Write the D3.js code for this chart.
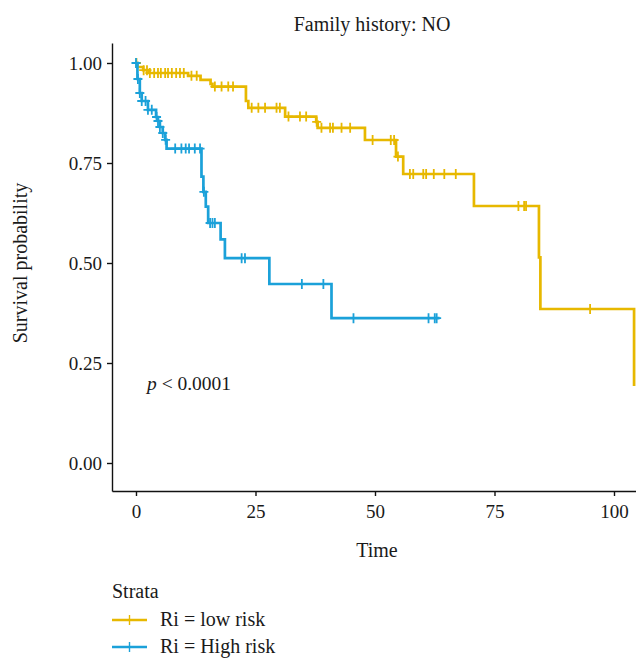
<!DOCTYPE html>
<html>

<head>
    <meta charset="utf-8" />
    <title>Survival curves</title>
    <script type="text/javascript" src="https://cdn.jsdelivr.net/npm/d3@7"></script>
    <style>
        body { margin: 0; background: #fff; }
        text { font-family: "Liberation Serif", "DejaVu Serif", serif; fill: #1a1a1a; }
    </style>
</head>

<body>
    <script type="text/javascript">
        // step times / survival after each step, censor times
        var lowTimes = [0, 0.3, 1.5, 2.8, 10.9, 13.5, 15.6, 16.0, 23.0, 23.5, 31.2, 37.7, 38.0, 47.9, 54.4, 55.9, 70.7, 84.3, 84.6, 104.2];
        var lowSurv = [1, 0.99, 0.982, 0.975, 0.968, 0.958, 0.948, 0.941, 0.905, 0.888, 0.866, 0.853, 0.838, 0.8075, 0.766, 0.7225, 0.6425, 0.514, 0.385, 0.1925];
        var lowCensor = [0.1, 1.6, 2.3, 2.9, 3.8, 4.6, 5.2, 6.1, 6.7, 7.5, 8.4, 9.2, 10.0, 11.6, 12.7, 16.5, 17.9, 19.3, 20.3,
            24.2, 25.6, 27.0, 29.4, 30.1, 31.9, 34.3, 35.6, 37.8, 38.8, 40.6, 41.2, 43.0, 44.8, 49.5, 53.3, 54.0, 54.8,
            57.3, 58.0, 60.1, 60.7, 62.3, 64.5, 66.9, 80.0, 81.2, 81.6, 95.0];
        var lowEnd = 104.2;

        var highTimes = [0, 0.3, 0.8, 1.2, 2.5, 4.2, 4.6, 5.0, 5.6, 6.1, 6.4, 13.7, 14.1, 14.6, 15.1, 17.7, 18.6, 27.9, 40.9];
        var highSurv = [1, 0.96, 0.925, 0.905, 0.883, 0.865, 0.855, 0.84, 0.825, 0.808, 0.786, 0.716, 0.678, 0.641, 0.60, 0.559, 0.512, 0.4475, 0.362];
        var highCensor = [0, 0.4, 0.8, 1.2, 2.0, 2.5, 3.3, 4.3, 4.6, 5.0, 5.6, 6.2, 8.2, 9.5, 10.4, 11.1, 12.3, 13.4, 14.2,
            15.5, 16.0, 16.5, 22.1, 22.8, 34.7, 39.2, 45.5, 61.2, 62.5, 62.9];
        var highEnd = 63.5;

        var strataNames = ["Ri = low risk", "Ri = High risk"];
        var strataColors = ["#E7B800", "#1BA1D9"];
        var xTicks = [0, 25, 50, 75, 100];
        var yTicks = [0, 0.25, 0.5, 0.75, 1];

        var width = 636, height = 658;
        var plotLeft = 112, plotTop = 43, plotBottom = 491;

        var svg = d3.select("body").append("svg")
            .attr("width", width)
            .attr("height", height);

        var x = d3.scaleLinear().domain([-5.02, 109.2]).range([plotLeft, plotLeft + 4.78 * 114.22]);
        var y = d3.scaleLinear().domain([-0.07, 1.05]).range([plotBottom, plotTop]);

        function survAt(times, surv, t) {
            var s = surv[0];
            for (var i = 0; i < times.length; i++) if (times[i] <= t) s = surv[i];
            return s;
        }

        function stepPoints(times, surv, end) {
            var pts = times.map(function (t, i) { return [t, surv[i]]; });
            pts.push([end, surv[surv.length - 1]]);
            return pts;
        }

        var strata = [
            { times: lowTimes, surv: lowSurv, censor: lowCensor, end: lowEnd },
            { times: highTimes, surv: highSurv, censor: highCensor, end: highEnd }
        ];

        // axes
        var yAxis = svg.append("g")
            .attr("transform", "translate(" + plotLeft + ",0)")
            .call(d3.axisLeft(y).tickValues(yTicks).tickFormat(d3.format(".2f")).tickSize(5).tickSizeOuter(0));
        var xAxis = svg.append("g")
            .attr("transform", "translate(0," + plotBottom + ")")
            .call(d3.axisBottom(x).tickValues(xTicks).tickSize(5).tickSizeOuter(0));

        [yAxis, xAxis].forEach(function (a) {
            a.select(".domain").attr("stroke", "#111").attr("stroke-width", 1.4);
            a.selectAll(".tick line").attr("stroke", "#111").attr("stroke-width", 1.4);
            a.selectAll(".tick text").attr("font-size", 19).attr("fill", "#1a1a1a")
                .style("font-family", "'Liberation Serif', serif");
        });
        yAxis.selectAll(".tick text").attr("x", -10).attr("dy", "0.35em");
        xAxis.selectAll(".tick text").attr("y", 14);

        // curves
        var line = d3.line()
            .x(function (d) { return x(d[0]); })
            .y(function (d) { return y(d[1]); })
            .curve(d3.curveStepAfter);

        var plot = svg.append("g");

        strata.forEach(function (s, i) {
            plot.append("path")
                .datum(stepPoints(s.times, s.surv, s.end))
                .attr("fill", "none")
                .attr("stroke", strataColors[i])
                .attr("stroke-width", 2.7)
                .attr("d", line);

            plot.selectAll("path.censor" + i)
                .data(s.censor)
                .enter().append("path")
                .attr("class", "censor" + i)
                .attr("stroke", strataColors[i])
                .attr("stroke-width", 1.8)
                .attr("d", function (t) {
                    var cx = x(t), cy = y(survAt(s.times, s.surv, t));
                    return "M" + (cx - 4.5) + "," + cy + "H" + (cx + 4.5) + "M" + cx + "," + (cy - 5) + "V" + (cy + 5);
                });
        });

        // texts
        svg.append("text")
            .attr("x", 372).attr("y", 31)
            .attr("text-anchor", "middle")
            .attr("font-size", 20)
            .text("Family history: NO");

        svg.append("text")
            .attr("transform", "translate(27,263) rotate(-90)")
            .attr("text-anchor", "middle")
            .attr("font-size", 20)
            .text("Survival probability");

        svg.append("text")
            .attr("x", 377).attr("y", 557)
            .attr("text-anchor", "middle")
            .attr("font-size", 20)
            .text("Time");

        var pv = svg.append("text")
            .attr("x", 147).attr("y", 390)
            .attr("font-size", 19.5);
        pv.append("tspan").attr("font-style", "italic").text("p");
        pv.append("tspan").text(" < 0.0001");

        // legend
        svg.append("text")
            .attr("x", 112).attr("y", 598)
            .attr("font-size", 20)
            .text("Strata");

        var legend = svg.selectAll("g.legend")
            .data(strataNames)
            .enter().append("g")
            .attr("class", "legend")
            .attr("transform", function (d, i) { return "translate(112," + (620 + i * 27) + ")"; });

        legend.append("path")
            .attr("stroke", function (d, i) { return strataColors[i]; })
            .attr("stroke-width", 2.5)
            .attr("d", "M0,0H35");
        legend.append("path")
            .attr("stroke", function (d, i) { return strataColors[i]; })
            .attr("stroke-width", 1.4)
            .attr("d", "M17.5,-5V5");
        legend.append("text")
            .attr("x", 48).attr("y", 6)
            .attr("font-size", 20)
            .text(function (d) { return d; });
    </script>
</body>

</html>
